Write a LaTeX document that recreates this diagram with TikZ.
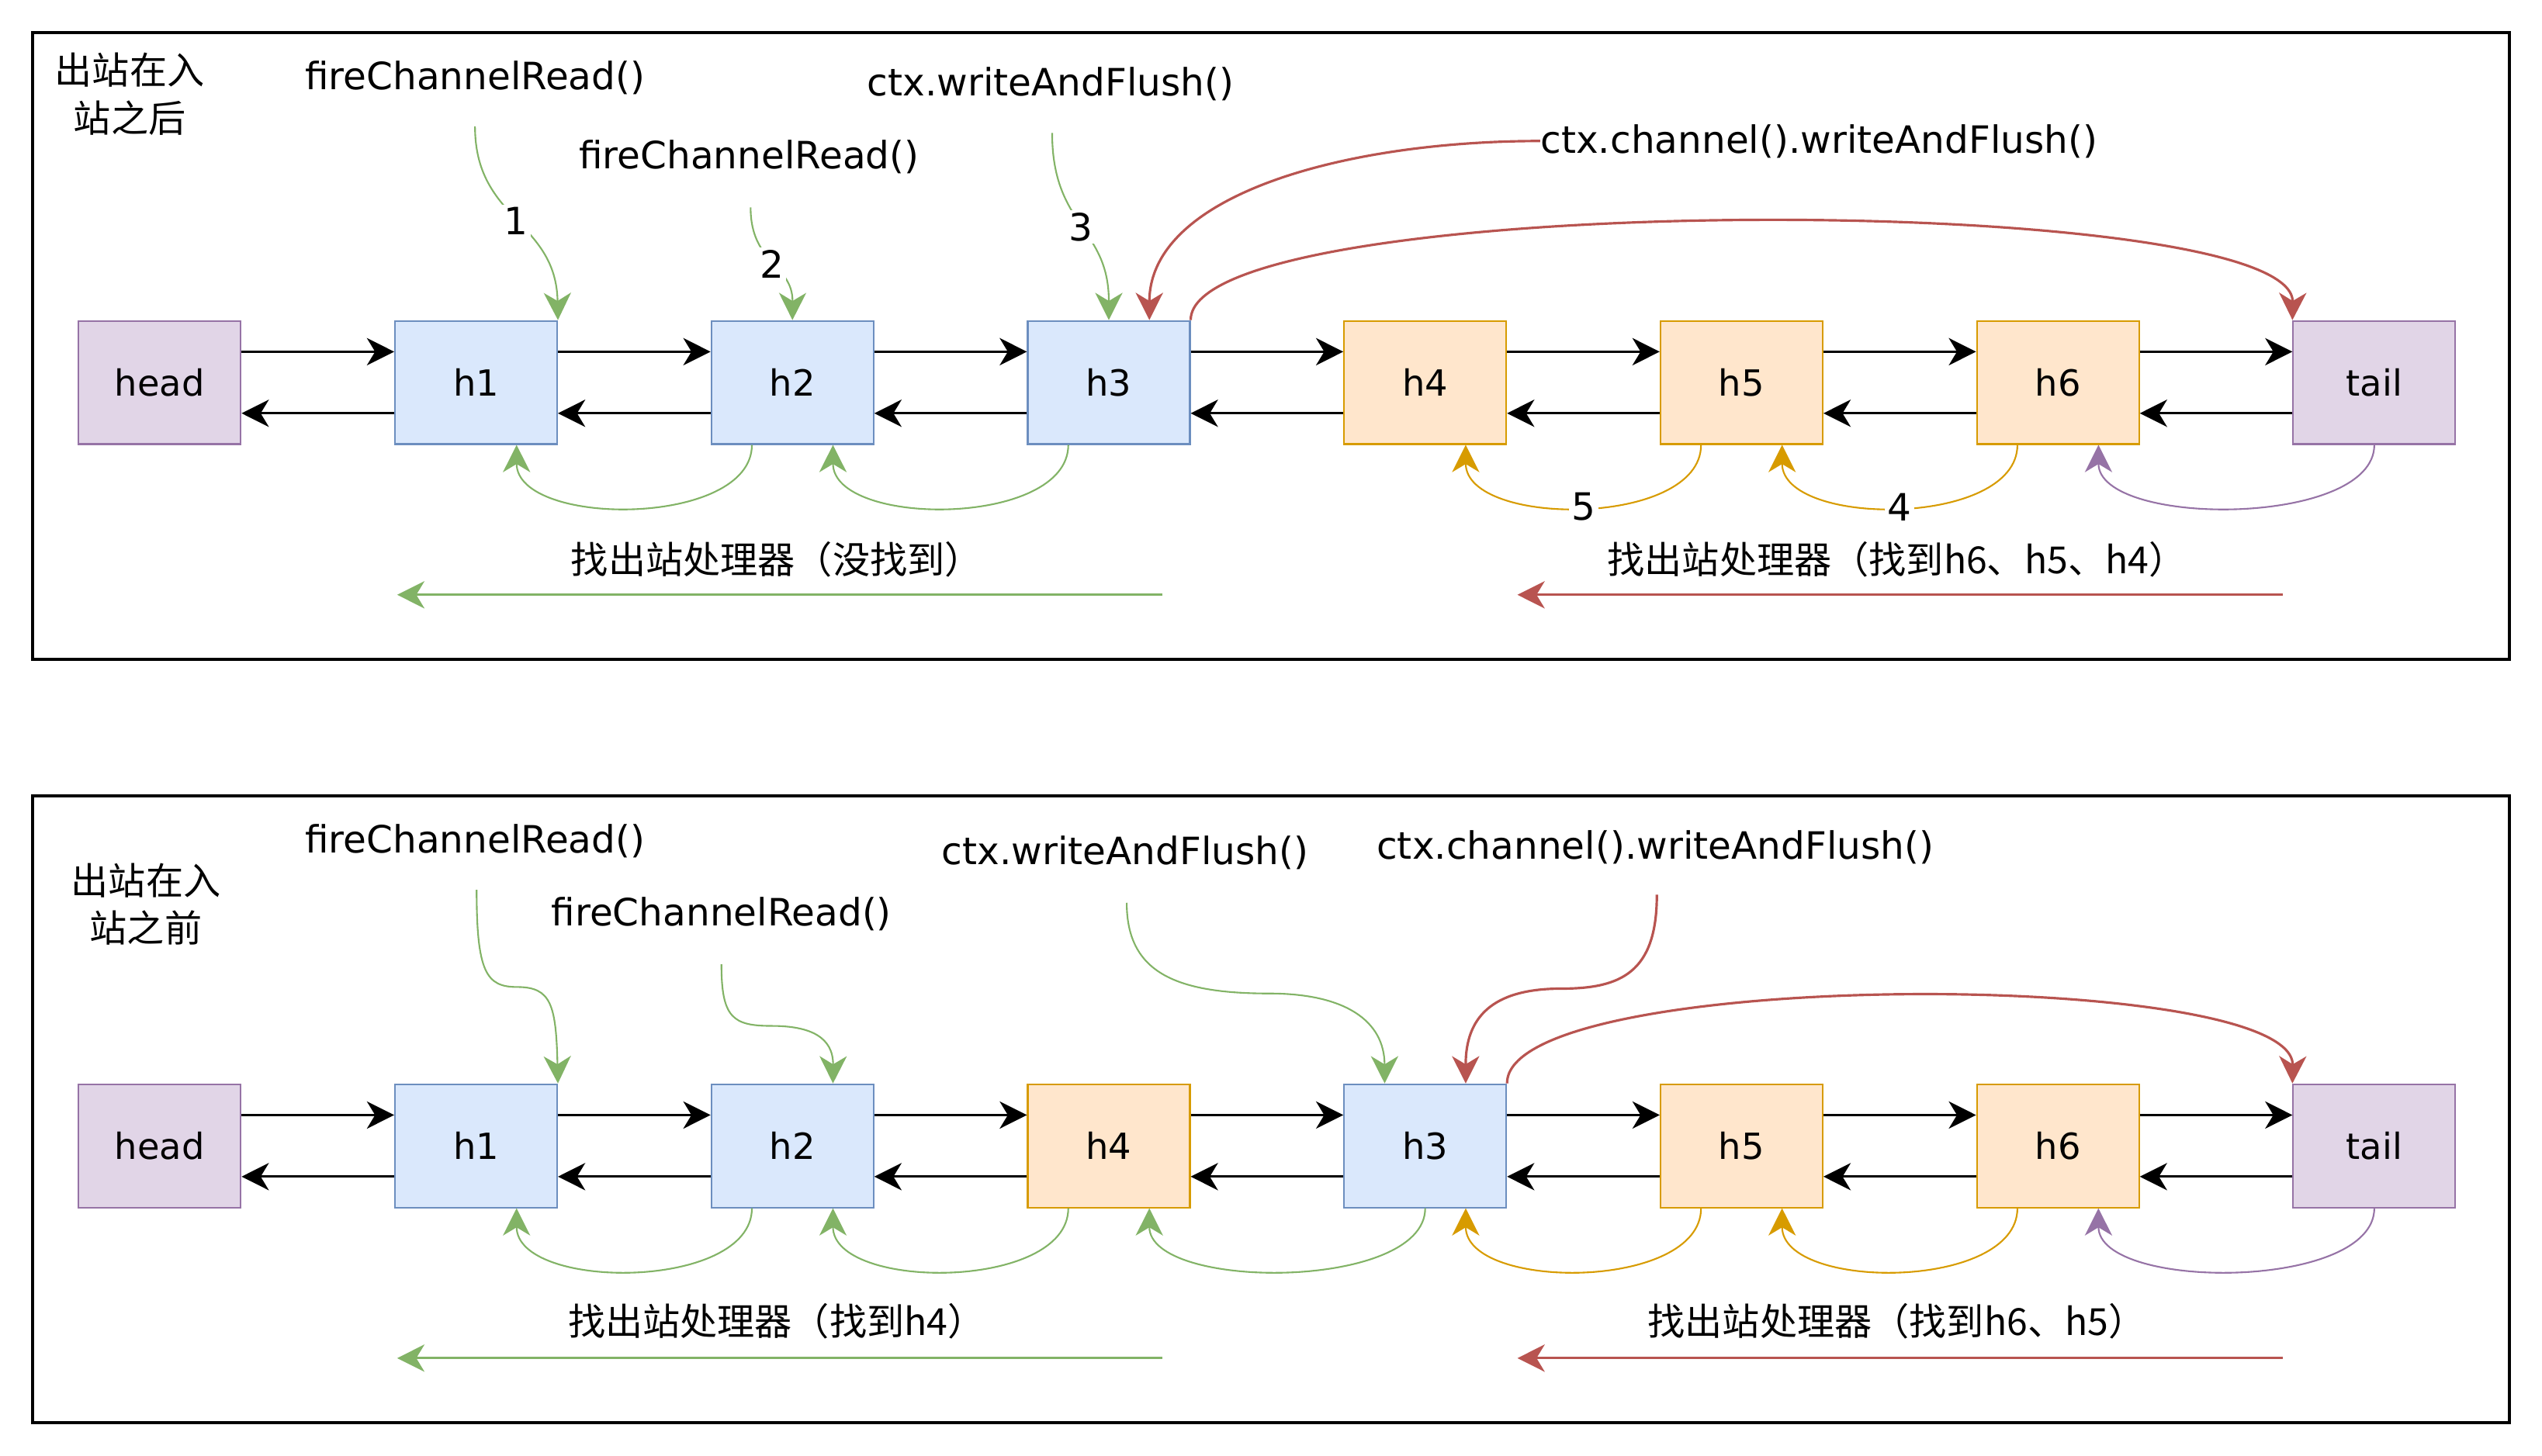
\documentclass[tikz,border=0pt]{standalone}
\usepackage{fontspec}
\setmainfont{DejaVu Sans}
\newfontfamily\cjk{Noto Sans CJK SC}
\usetikzlibrary{arrows.meta}
\definecolor{inblue}{HTML}{DAE8FC}
\definecolor{inblueline}{HTML}{6C8EBF}
\definecolor{outorange}{HTML}{FFE6CC}
\definecolor{outorangeline}{HTML}{D79B00}
\definecolor{endpurple}{HTML}{E1D5E7}
\definecolor{endpurpleline}{HTML}{9673A6}
\definecolor{hopgreen}{HTML}{82B366}
\definecolor{hopred}{HTML}{B85450}
\tikzset{
  handler/.style={draw,minimum width=2.089cm,minimum height=1.588cm,inner sep=0pt,line width=0.6pt,font=\fontsize{13.2}{17}\selectfont},
  inh/.style={handler,fill=inblue,draw=inblueline},
  outh/.style={handler,fill=outorange,draw=outorangeline},
  endh/.style={handler,fill=endpurple,draw=endpurpleline},
  tip/.style={-{Stealth[length=10pt,width=10pt,inset=3pt]}},
  link/.style={tip,line width=0.8pt},
  hop/.style={tip,line width=0.6pt},
  redhop/.style={tip,line width=0.9pt,draw=hopred},
  seek/.style={tip,line width=0.9pt},
  num/.style={fill=white,inner sep=1pt},
  zh/.style={font=\fontsize{13.7}{17.5}\selectfont\cjk},
}
\begin{document}
\begin{tikzpicture}[x=0.020893cm,y=-0.020893cm,font=\fontsize{13.8}{17.5}\selectfont]
\useasboundingbox (0,0) rectangle (1568,898);
\draw[line width=1.1pt] (20,20) rectangle (1548,407);
\draw[line width=1.1pt] (20,491) rectangle (1548,878);
\node[zh,align=center] (atitle) at (80,58) {出站在入\\站之后};
\foreach \n/\t/\s [count=\i from 0] in {ahead/head/endh,ah1/h1/inh,ah2/h2/inh,ah3/h3/inh,ah4/h4/outh,ah5/h5/outh,ah6/h6/outh,atail/tail/endh}
  \node[\s] (\n) at ({98.5+195.15*\i},236) {\t};
\foreach \a/\b in {ahead/ah1,ah1/ah2,ah2/ah3,ah3/ah4,ah4/ah5,ah5/ah6,ah6/atail}{
  \draw[link] ([shift={(0,-19)}]\a.east)--([shift={(0,-19)}]\b.west);
  \draw[link] ([shift={(0,19)}]\b.west)--([shift={(0,19)}]\a.east);
}
\node (afire1) at (293,48) {fireChannelRead()};
\node (afire2) at (462,97) {fireChannelRead()};
\node (awrite) at (648,52) {ctx.writeAndFlush()};
\node[anchor=west,inner sep=0pt] (achan) at (950,87) {ctx.channel().writeAndFlush()};
\coordinate (as1) at (293,78);
\coordinate (as2) at (463,128);
\coordinate (as3) at (649,82);
\draw[hop,draw=hopgreen] (as1) .. controls (293,136) and (343,136) .. (ah1.north east) node[pos=0.5,num]{1};
\draw[hop,draw=hopgreen] (as2) .. controls (463,163) and (489,163) .. (ah2.north) node[pos=0.5,num]{2};
\draw[hop,draw=hopgreen] (as3) .. controls (649,140) and (684,140) .. (ah3.north) node[pos=0.5,num]{3};
\draw[redhop] (achan.west) .. controls (830,87) and (709,120) .. ([shift={(25,0)}]ah3.north);
\draw[redhop] (ah3.north east) .. controls (734,117) and (1415,117) .. (atail.north west);
\foreach \s/\d/\t/\c in {ah2/-25/ah1/hopgreen,ah3/-25/ah2/hopgreen,atail/0/ah6/endpurpleline}
  \draw[hop,draw=\c] ([shift={(\d,0)}]\s.south) .. controls +(0,51) and +(0,51) .. ([shift={(25,0)}]\t.south);
\draw[hop,draw=outorangeline] ([shift={(-25,0)}]ah5.south) .. controls +(0,51) and +(0,51) .. ([shift={(25,0)}]ah4.south) node[pos=0.5,num]{5};
\draw[hop,draw=outorangeline] ([shift={(-25,0)}]ah6.south) .. controls +(0,51) and +(0,51) .. ([shift={(25,0)}]ah5.south) node[pos=0.5,num]{4};
\node[zh] (aseekin) at (479,345) {找出站处理器（没找到）};
\node[zh] (aseekout) at (1170,345) {找出站处理器（找到h6、h5、h4）};
\coordinate (ain1) at (717,367);
\coordinate (ain2) at (245,367);
\coordinate (aout1) at (1408,367);
\coordinate (aout2) at (936,367);
\draw[seek,draw=hopgreen] (ain1)--(ain2);
\draw[seek,draw=hopred] (aout1)--(aout2);
\node[zh,align=center] (btitle) at (90,558) {出站在入\\站之前};
\foreach \n/\t/\s [count=\i from 0] in {bhead/head/endh,bh1/h1/inh,bh2/h2/inh,bh4/h4/outh,bh3/h3/inh,bh5/h5/outh,bh6/h6/outh,btail/tail/endh}
  \node[\s] (\n) at ({98.5+195.15*\i},707) {\t};
\foreach \a/\b in {bhead/bh1,bh1/bh2,bh2/bh4,bh4/bh3,bh3/bh5,bh5/bh6,bh6/btail}{
  \draw[link] ([shift={(0,-19)}]\a.east)--([shift={(0,-19)}]\b.west);
  \draw[link] ([shift={(0,19)}]\b.west)--([shift={(0,19)}]\a.east);
}
\node (bfire1) at (293,519) {fireChannelRead()};
\node (bfire2) at (445,564) {fireChannelRead()};
\node (bwrite) at (694,526) {ctx.writeAndFlush()};
\node (bchan) at (1021,523) {ctx.channel().writeAndFlush()};
\coordinate (bs1) at (294,549);
\coordinate (bs2) at (445,595);
\coordinate (bs3) at (695,557);
\coordinate (bs4) at (1022,552);
\draw[hop,draw=hopgreen] (bs1) .. controls (294,600) and (300,609) .. (319,609) .. controls (340,609) and (343,620) .. (bh1.north east);
\draw[hop,draw=hopgreen] (bs2) .. controls (445,628) and (452,633) .. (476,633) .. controls (500,633) and (514,640) .. ([shift={(25,0)}]bh2.north);
\draw[hop,draw=hopgreen] (bs3) .. controls (695,600) and (725,613) .. (783,613) .. controls (830,613) and (854,630) .. ([shift={(-25,0)}]bh3.north);
\draw[redhop] (bs4) .. controls (1022,600) and (1000,610) .. (963,610) .. controls (920,610) and (904,628) .. ([shift={(25,0)}]bh3.north);
\draw[redhop] (bh3.north east) .. controls (929,597) and (1415,597) .. (btail.north west);
\foreach \s/\d/\t/\c in {bh2/-25/bh1/hopgreen,bh4/-25/bh2/hopgreen,bh3/0/bh4/hopgreen,bh5/-25/bh3/outorangeline,bh6/-25/bh5/outorangeline,btail/0/bh6/endpurpleline}
  \draw[hop,draw=\c] ([shift={(\d,0)}]\s.south) .. controls +(0,51) and +(0,51) .. ([shift={(25,0)}]\t.south);
\node[zh] (bseekin) at (479,815) {找出站处理器（找到h4）};
\node[zh] (bseekout) at (1170,815) {找出站处理器（找到h6、h5）};
\coordinate (bin1) at (717,838);
\coordinate (bin2) at (245,838);
\coordinate (bout1) at (1408,838);
\coordinate (bout2) at (936,838);
\draw[seek,draw=hopgreen] (bin1)--(bin2);
\draw[seek,draw=hopred] (bout1)--(bout2);
\end{tikzpicture}
\end{document}
